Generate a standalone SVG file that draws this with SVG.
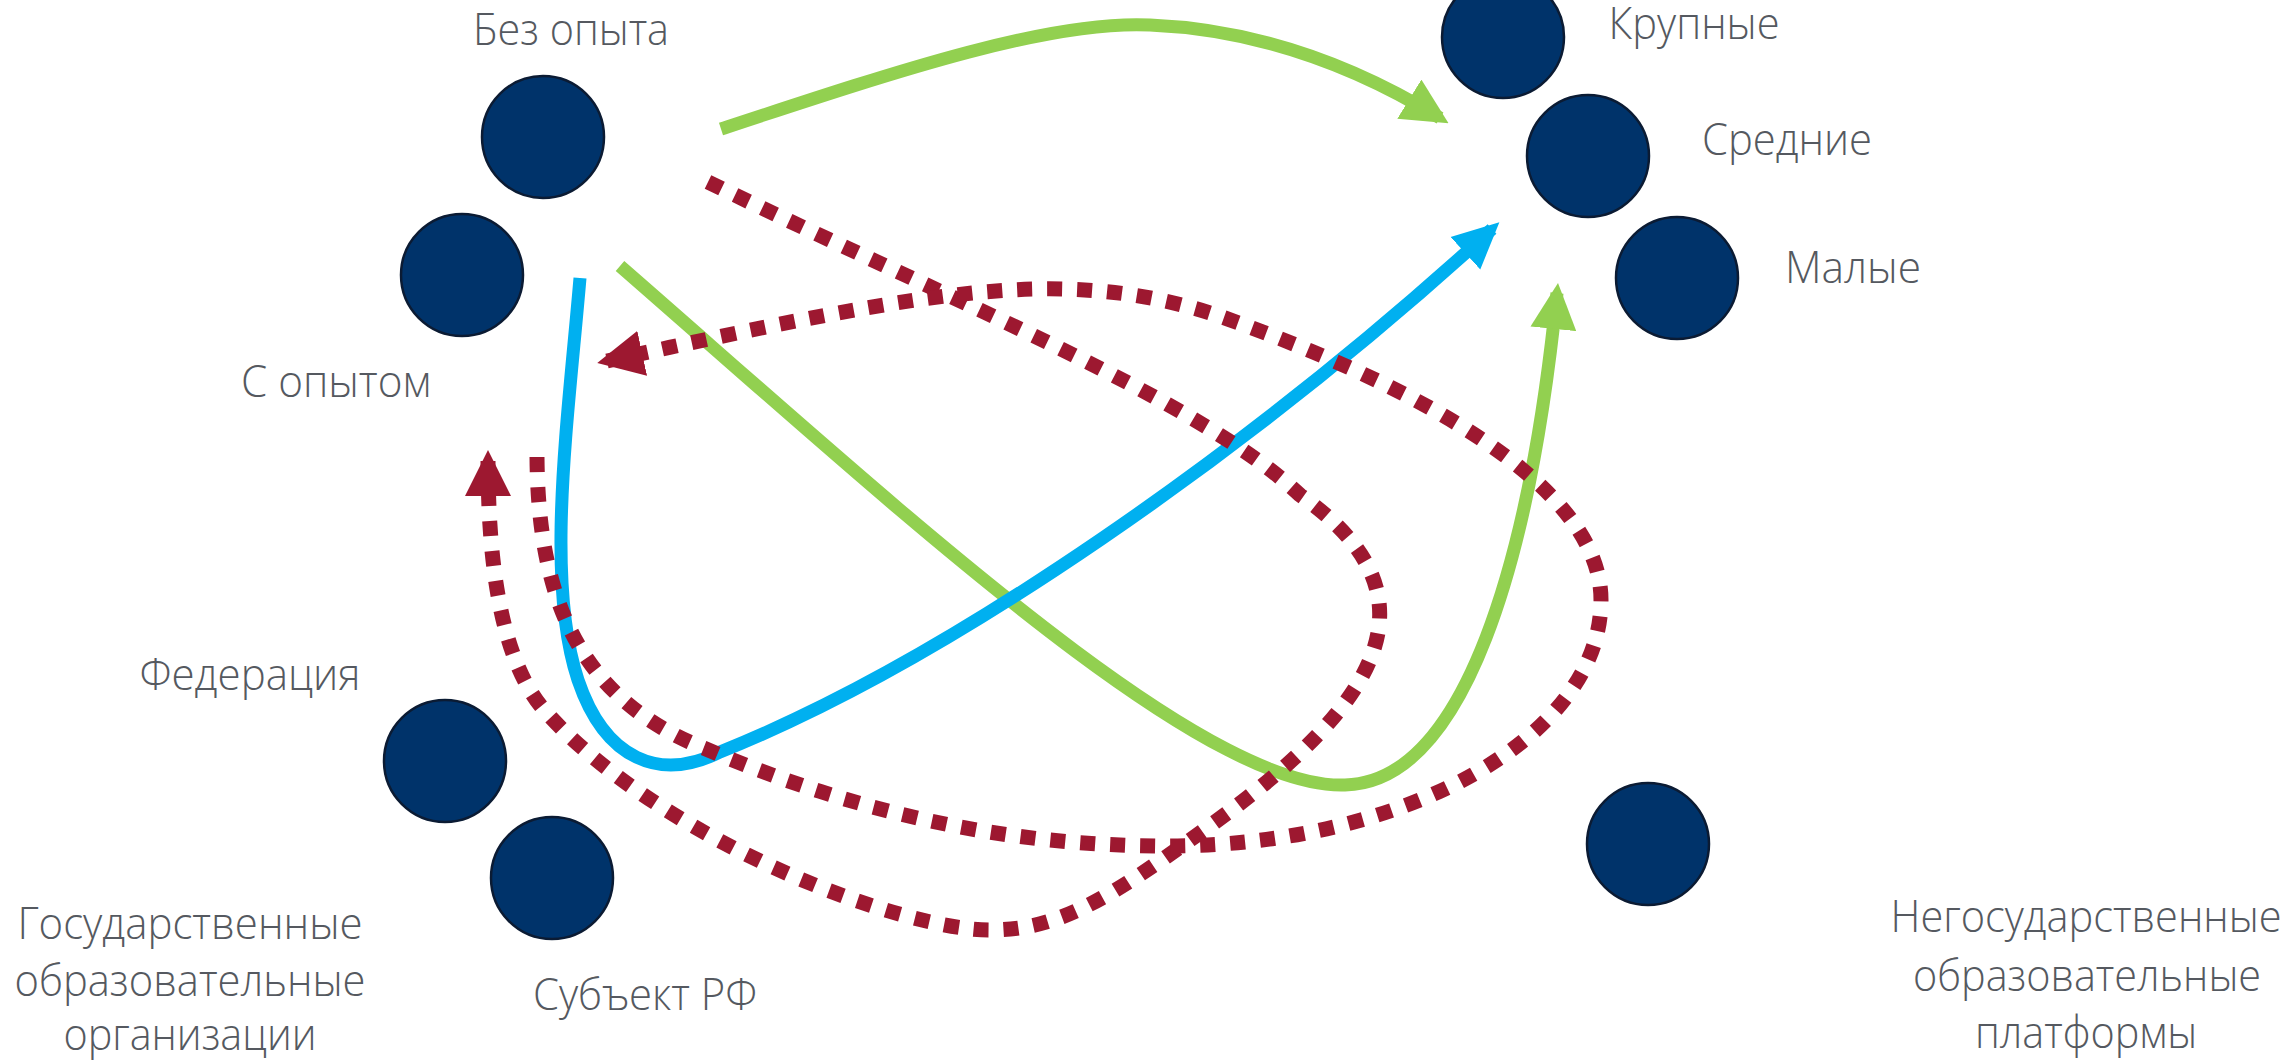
<svg xmlns="http://www.w3.org/2000/svg" width="2293" height="1060" viewBox="0 0 2293 1060">
<style>
.node{fill:#00336A;stroke:#0B1B33;stroke-width:2.5}
.lbl{font-family:"Open Sans","Liberation Sans",sans-serif;font-weight:300;font-size:44px;fill:#555960;text-anchor:middle}
.g{fill:none;stroke:#92D050;stroke-width:13}
.b{fill:none;stroke:#00B0F0;stroke-width:13}
.r{fill:none;stroke:#9D1830;stroke-width:15;stroke-dasharray:15 15}
</style>
<defs>
<marker id="ag" markerUnits="userSpaceOnUse" markerWidth="46" markerHeight="46" viewBox="0 0 46 46" refX="36" refY="23" orient="auto"><path d="M0,0 L46,23 L0,46 Z" fill="#92D050"/></marker>
<marker id="ab" markerUnits="userSpaceOnUse" markerWidth="46" markerHeight="46" viewBox="0 0 46 46" refX="36" refY="23" orient="auto"><path d="M0,1 L46,23 L0,45 Z" fill="#00B0F0"/></marker>
<marker id="ar" markerUnits="userSpaceOnUse" markerWidth="46" markerHeight="46" viewBox="0 0 46 46" refX="36" refY="23" orient="auto"><path d="M0,0 L46,23 L0,46 Z" fill="#9D1830"/></marker>
</defs>
<rect width="2293" height="1060" fill="#fff"/>
<g id="node-bez-opyta"><circle class="node" cx="543" cy="137" r="61"/><text class="lbl" x="571" y="45" textLength="196" lengthAdjust="spacingAndGlyphs">Без опыта</text></g>
<g id="node-s-opytom"><circle class="node" cx="462" cy="275" r="61"/><text class="lbl" x="336" y="397" textLength="190" lengthAdjust="spacingAndGlyphs">С опытом</text></g>
<g id="node-krupnye"><circle class="node" cx="1503" cy="37" r="61"/><text class="lbl" x="1694" y="39" textLength="171" lengthAdjust="spacingAndGlyphs">Крупные</text></g>
<g id="node-srednie"><circle class="node" cx="1588" cy="156" r="61"/><text class="lbl" x="1787" y="155" textLength="170" lengthAdjust="spacingAndGlyphs">Средние</text></g>
<g id="node-malye"><circle class="node" cx="1677" cy="278" r="61"/><text class="lbl" x="1853" y="283" textLength="136" lengthAdjust="spacingAndGlyphs">Малые</text></g>
<g id="node-federaciya"><circle class="node" cx="445" cy="761" r="61"/><text class="lbl" x="250" y="690" textLength="221" lengthAdjust="spacingAndGlyphs">Федерация</text></g>
<g id="node-subekt"><circle class="node" cx="552" cy="878" r="61"/><text class="lbl" x="645" y="1010" textLength="224" lengthAdjust="spacingAndGlyphs">Субъект РФ</text></g>
<g id="node-negos"><circle class="node" cx="1648" cy="844" r="61"/>
<text class="lbl" x="2086" y="932" textLength="391" lengthAdjust="spacingAndGlyphs">Негосударственные</text>
<text class="lbl" x="2087" y="991" textLength="348" lengthAdjust="spacingAndGlyphs">образовательные</text>
<text class="lbl" x="2086" y="1048" textLength="222" lengthAdjust="spacingAndGlyphs">платформы</text></g>
<g id="label-gos">
<text class="lbl" x="190" y="939" textLength="345" lengthAdjust="spacingAndGlyphs">Государственные</text>
<text class="lbl" x="190" y="996" textLength="351" lengthAdjust="spacingAndGlyphs">образовательные</text>
<text class="lbl" x="190" y="1050" textLength="253" lengthAdjust="spacingAndGlyphs">организации</text></g>
<g id="connectors">
<path class="g" d="M721,129 C900,70 1050,20 1150,25 C1270,30 1370,75 1440,118" marker-end="url(#ag)"/>
<path class="g" d="M620,266 C900,510 1200,790 1345,785 C1465,782 1530,560 1557,293" marker-end="url(#ag)"/>
<path class="b" d="M580,278 C568,420 545,580 578,680 C605,760 660,782 720,752 C950,660 1250,450 1492,229" marker-end="url(#ab)"/>
<path class="r" d="M708,182 C950,300 1200,400 1300,495 C1450,600 1370,710 1211,825 C1110,898 1060,930 990,930 C900,930 660,840 545,711 C500,660 488,560 488,460" marker-end="url(#ar)"/>
<path class="r" d="M537,457 C538,600 580,700 706,749 C850,810 1000,846 1167,846 C1400,846 1601,740 1601,600 C1601,480 1400,380 1222,317 C1150,292 1080,286 1011,290 C900,296 750,330 607,361" marker-end="url(#ar)"/>
</g>
</svg>
